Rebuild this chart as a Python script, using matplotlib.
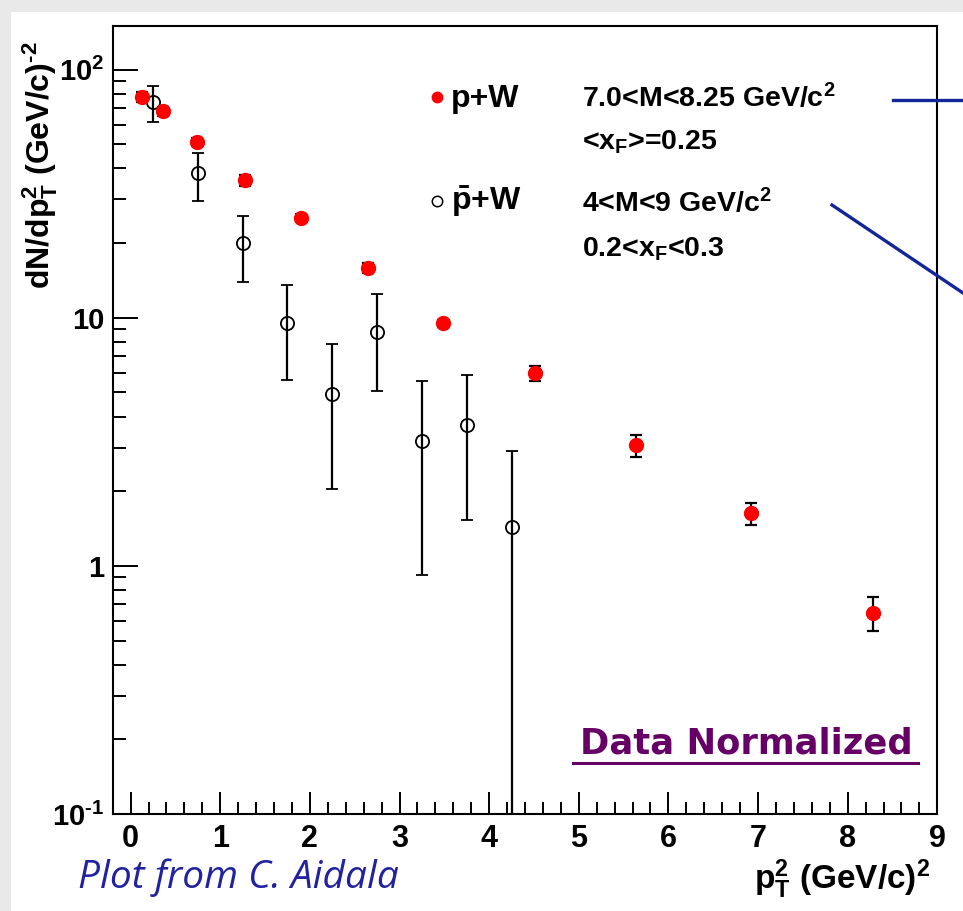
import numpy as np
import matplotlib
matplotlib.use('Agg')
import matplotlib.pyplot as plt
from matplotlib import font_manager
from matplotlib.lines import Line2D
from matplotlib.patches import Rectangle
from matplotlib.ticker import FixedLocator, FixedFormatter, MultipleLocator, LogLocator, NullFormatter

# ---------------- data ----------------
# p+W, 7.0<M<8.25 GeV/c^2
pw_x = [0.125, 0.36, 0.745, 1.28, 1.9, 2.65, 3.48, 4.51, 5.64, 6.92, 8.28]
pw_y = [77.6, 67.9, 51.2, 35.8, 25.3, 15.9, 9.5, 5.98, 3.06, 1.63, 0.648]
pw_err = [3.5, 2.8, 2.0, 1.8, 0.8, 0.8, 0.3, 0.4, 0.31, 0.17, 0.10]

# pbar+W, 4<M<9 GeV/c^2
pbw_x = [0.25, 0.75, 1.25, 1.75, 2.25, 2.75, 3.25, 3.75, 4.25]
pbw_y = [74.1, 38.3, 20.0, 9.5, 4.94, 8.76, 3.2, 3.69, 1.43]
pbw_hi = [85.7, 46.2, 25.8, 13.5, 7.83, 12.5, 5.54, 5.87, 2.90]
pbw_lo = [61.8, 29.6, 14.0, 5.6, 2.04, 5.09, 0.917, 1.53, 0.0]

ytick_vals = [0.1, 1, 10, 100]
ytick_labels = [r'10$^{\text{-}1}$', '1', '10', '10$^{2}$']
xtick_vals = [0, 1, 2, 3, 4, 5, 6, 7, 8, 9]

# ---------------- fonts ----------------
names = {f.name for f in font_manager.fontManager.ttflist}
FONT = 'Liberation Sans Narrow' if 'Liberation Sans Narrow' in names else 'Liberation Sans'
plt.rcParams['font.family'] = [FONT, 'DejaVu Sans']
plt.rcParams['font.weight'] = 'bold'
plt.rcParams['mathtext.fontset'] = 'custom'
plt.rcParams['mathtext.rm'] = FONT + ':bold'
plt.rcParams['mathtext.it'] = FONT + ':bold'
plt.rcParams['mathtext.bf'] = FONT + ':bold'
plt.rcParams['mathtext.default'] = 'rm'

W, H = 963, 911
def fx(px):
    return px / W
def fy(py):
    return 1 - py / H

fig = plt.figure(figsize=(W / 100, H / 100), dpi=100)
fig.patch.set_facecolor('#e9e9e9')
fig.add_artist(Rectangle((fx(11), 0), 1, fy(12), transform=fig.transFigure,
                         facecolor='white', edgecolor='none', zorder=0))

ax = fig.add_axes([fx(112.7), fy(814), fx(937.3) - fx(112.7), fy(26) - fy(814)])
ax.set_yscale('log')
ax.set_xlim(-0.2, 9.0)
ax.set_ylim(0.1, 150)

# open circles first (error bar through marker)
pbw_y_a = np.array(pbw_y)
lo = pbw_y_a - np.maximum(np.array(pbw_lo), 1e-3)
hi = np.array(pbw_hi) - pbw_y_a
ax.errorbar(pbw_x, pbw_y, yerr=[lo, hi], fmt='o', ms=9.5, mfc='none', mec='black',
            mew=1.3, ecolor='black', elinewidth=1.6, capsize=4.5, capthick=1.6, zorder=3)
ax.errorbar(pw_x, pw_y, yerr=pw_err, fmt='o', ms=10, mfc='red', mec='red',
            ecolor='black', elinewidth=1.6, capsize=4.5, capthick=1.6, zorder=4)

# axes styling, ROOT-like
for side in ['left', 'bottom', 'right', 'top']:
    ax.spines[side].set_linewidth(1.5)
ax.yaxis.set_major_locator(FixedLocator(ytick_vals))
ax.yaxis.set_major_formatter(FixedFormatter(ytick_labels))
ax.yaxis.set_minor_locator(LogLocator(base=10, subs=np.arange(2, 10)))
ax.yaxis.set_minor_formatter(NullFormatter())
ax.xaxis.set_major_locator(FixedLocator(xtick_vals))
ax.xaxis.set_minor_locator(MultipleLocator(0.2))
ax.tick_params(axis='x', which='major', direction='in', length=16, width=1.4, labelsize=22, pad=7)
ax.tick_params(axis='x', which='minor', direction='in', length=8.5, width=1.4)
ax.tick_params(axis='y', which='major', direction='in', length=18, width=1.4, labelsize=21, pad=6)
ax.tick_params(axis='y', which='minor', direction='in', length=9.5, width=1.4)
ax.tick_params(top=False, right=False, which='both')

# axis titles
fig.text(fx(40), fy(165), r'dN/d$p_{T}^{2}$ (GeV/c)$^{\text{-}2}$', rotation=90,
         ha='center', va='center', fontsize=23, fontweight='bold')
fig.text(fx(842), fy(879), '$p_{T}^{2}$ (GeV/c)$^{2}$', ha='center', va='center',
         fontsize=24, fontweight='bold')

# legend block
fig.add_artist(Line2D([fx(437)], [fy(97)], marker='o', ms=7.5, mfc='red', mec='red',
                      transform=fig.transFigure))
fig.add_artist(Line2D([fx(437)], [fy(201)], marker='o', ms=7.5, mfc='none', mec='black',
                      mew=1.1, transform=fig.transFigure))
fig.text(fx(451), fy(107), 'p+W', fontsize=23, fontweight='bold', va='baseline')
fig.text(fx(451), fy(210), r'$\bar{p}$+W', fontsize=23, fontweight='bold', va='baseline')
fig.text(fx(582), fy(107), '7.0<M<8.25 GeV/c$^{2}$', fontsize=20.5, fontweight='bold', va='baseline')
fig.text(fx(582), fy(150), '<x$_{F}$>=0.25', fontsize=20.5, fontweight='bold', va='baseline')
fig.text(fx(582), fy(212), '4<M<9 GeV/c$^{2}$', fontsize=20.5, fontweight='bold', va='baseline')
fig.text(fx(582), fy(257), '0.2<x$_{F}$<0.3', fontsize=20.5, fontweight='bold', va='baseline')

# blue pointer lines from the slide
blue = '#14249a'
fig.add_artist(Line2D([fx(893), fx(963)], [fy(100), fy(100)], color=blue, lw=2.4,
                      transform=fig.transFigure))
fig.add_artist(Line2D([fx(832), fx(963)], [fy(205), fy(293)], color=blue, lw=2.4,
                      transform=fig.transFigure))

# slide annotations
fig.text(fx(746), fy(744), 'Data Normalized', ha='center', va='center', fontsize=25.5,
         fontweight='bold', color='#660066', family=['DejaVu Sans'])
fig.add_artist(Line2D([fx(573), fx(918)], [fy(763), fy(763)], color='#660066', lw=2.2,
                      transform=fig.transFigure))
fig.text(fx(78), fy(888), 'Plot from C. Aidala', ha='left', va='baseline', fontsize=28,
         fontweight='normal', style='italic', color='#2222a0', family=['Open Sans', 'DejaVu Sans'])

fig.savefig('out.png', dpi=100, facecolor=fig.get_facecolor())
